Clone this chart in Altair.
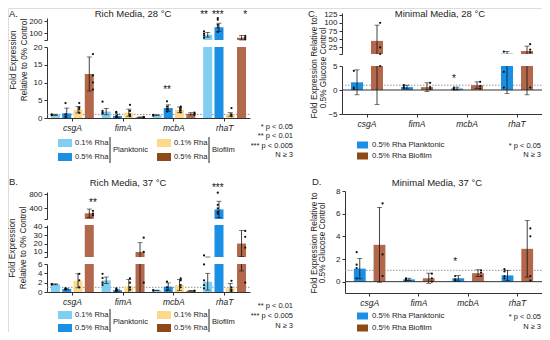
import altair as alt
import pandas as pd

FONT = "Liberation Sans"
W, H = 534, 324
INK = "#222222"
AX = "#333333"

genes = ["csgA", "fimA", "mcbA", "rhaT"]
series_rich = ["0.1% Rha Planktonic", "0.5% Rha Planktonic", "0.1% Rha Biofilm", "0.5% Rha Biofilm"]
series_min = ["0.5% Rha Planktonic", "0.5% Rha Biofilm"]
bar_colors_rich = ["#80cff3", "#1a8fe4", "#fbd88a", "#b3684b"]
bar_colors_min = ["#1a8fe4", "#b3684b"]
legend_colors = ["#80cff3", "#1a8fe4", "#fbd88a", "#8d4a17"]

# ---------------- Panel A: Rich media 28 C (series x gene) ----------------
a_mean = [[0.9, 1.8, 0.8, 85], [1.3, 0.6, 2.8, 150], [2.3, 1.5, 2.3, 1.0], [12.4, 0.2, 1.2, 60]]
a_sd = [[0.15, 0.9, 0.1, 20], [1.5, 0.5, 0.9, 35], [0.9, 1.0, 0.8, 0.5], [4.8, 0.1, 0.3, 20]]
a_pts = [
    [[0.8, 1.0, 0.9], [1.2, 1.5, 2.0, 4.6], [0.7, 0.8, 0.9], [60, 80, 95, 115]],
    [[0.3, 1.0, 4.2], [0.2, 0.5, 1.5, 1.7], [1.8, 2.5, 3.2, 4.7], [110, 150, 170, 215, 230]],
    [[1.5, 2.5, 3.0, 4.2], [0.5, 1.0, 2.0, 3.7], [1.6, 2.2, 2.8, 3.2], [0.5, 1.0, 2.8]],
    [[8, 10, 12, 18], [0.1, 0.2, 0.3], [0.9, 1.2, 1.5], [45, 60, 75]],
]
a_star_gene = ["rhaT", "rhaT", "rhaT", "mcbA"]
a_star_series = [series_rich[0], series_rich[1], series_rich[3], series_rich[1]]
a_star_text = ["**", "***", "*", "**"]
a_star_y = [252, 252, 252, 7.9]

# ---------------- Panel B: Rich media 37 C ----------------
b_mean = [[1.65, 2.5, 0.35, 2.2], [0.65, 0.4, 1.15, 370], [2.4, 1.2, 1.5, 0.8], [260, 10, 0.25, 20]]
b_sd = [[0.1, 0.7, 0.05, 1.8], [0.15, 0.2, 0.8, 230], [1.5, 1.5, 1.2, 1.0], [120, 11, 0.05, 15.5]]
b_pts = [
    [[1.6, 1.7, 1.7], [1.5, 2.0, 3.0, 3.9], [0.3, 0.4], [0.8, 1.5, 2.5, 5.9]],
    [[0.5, 0.7, 0.8], [0.2, 0.3, 0.5, 0.8], [0.4, 1.0, 2.2], [250, 300, 400, 500, 840]],
    [[1.0, 2.5, 3.9], [0.5, 1.0, 2.0, 2.9], [1.0, 1.5, 2.5, 2.9], [0.2, 0.5, 1.0, 2.4]],
    [[200, 250, 330], [2, 10, 27], [0.2, 0.3], [2, 15, 28, 35]],
]
b_star_gene = ["csgA", "rhaT"]
b_star_series = [series_rich[3], series_rich[1]]
b_star_text = ["**", "***"]
b_star_y = [550, 972]

# ---------------- Panel C: Minimal media 28 C ----------------
c_mean = [[1.6, 0.6, 0.3, 6], [45, 0.6, 1.0, 14]]
c_sd = [[2.6, 0.4, 0.3, 6.7], [48, 0.9, 0.7, 15]]
c_pts = [
    [[0.2, 0.5, 4.0], [0.4, 0.6, 1.0], [0.1, 0.3, 0.5], [0.5, 3.8, 12]],
    [[5, 25, 100], [0.2, 0.6, 1.5], [0.3, 0.8, 1.7], [0.5, 10, 18, 35]],
]
c_star_gene = ["mcbA"]
c_star_series = [series_min[0]]
c_star_text = ["*"]
c_star_y = [2.3]

# ---------------- Panel D: Minimal media 37 C ----------------
d_mean = [[1.15, 0.2, 0.3, 0.55], [3.25, 0.3, 0.75, 2.9]]
d_sd = [[0.9, 0.1, 0.25, 0.45], [3.3, 0.45, 0.3, 2.5]]
d_pts = [
    [[0.3, 1.2, 1.5, 2.6], [0.1, 0.2, 0.3], [0.1, 0.2, 0.5], [0.3, 0.5, 0.9, 1.1]],
    [[0.5, 2.4, 6.9], [0.0, 0.3, 0.7], [0.5, 0.8, 1.0], [0.1, 0.5, 4.0, 4.7]],
]
d_star_gene = ["mcbA"]
d_star_series = [series_min[0]]
d_star_text = ["*"]
d_star_y = [1.74]

titles = ["Rich Media, 28 \u00b0C", "Rich Media, 37 \u00b0C", "Minimal Media, 28 \u00b0C", "Minimal Media, 37 \u00b0C"]
letters = ["A.", "B.", "C.", "D."]
ytitle_rich = ["Fold Expression", "Relative to 0% Control"]
ytitle_min = ["Fold Expression Relative to", "0.5% Glucose Control"]
rate_labels = ["0.1% Rha", "0.5% Rha"]
group_labels = ["Planktonic", "Biofilm"]
notes_a = ["* p < 0.05", "** p < 0.01", "*** p < 0.005", "N \u2265 3"]
notes_b = ["** p < 0.01", "*** p < 0.005", "N \u2265 3"]
notes_min = ["* p < 0.05", "N \u2265 3"]

one = pd.DataFrame({"k": [0]})


def frames(means, sds, pts, series):
    rows, prow = [], []
    for si, s in enumerate(series):
        for gi, g in enumerate(genes):
            m, sd = means[si][gi], sds[si][gi]
            rows.append({"gene": g, "series": s, "mean": m, "lo": m - sd, "hi": m + sd})
            for v in pts[si][gi]:
                prow.append({"gene": g, "series": s, "v": v})
    return pd.DataFrame(rows), pd.DataFrame(prow)


def axis_style():
    return dict(domainColor=AX, tickColor=AX, labelColor=INK, labelFont=FONT,
                tickSize=3, domainWidth=1, tickWidth=1, grid=False, title=None)


def panel(means, sds, pts, series, colors, star_gene, star_series, star_text, star_y,
          xr, segs, pad_in, pad_out):
    df, pdf = frames(means, sds, pts, series)
    sdf = pd.DataFrame({"gene": star_gene, "series": star_series, "txt": star_text, "y": star_y})
    los = [s["dom"][0] for s in segs]
    seg_of = []
    for y in star_y:
        idx = 0
        for i, l in enumerate(los):
            if y >= l:
                idx = i
        seg_of.append(idx)
    sdf["seg"] = seg_of

    xs = alt.Scale(domain=genes, range=xr, paddingInner=0, paddingOuter=0)
    xos = alt.Scale(domain=series, paddingInner=pad_in, paddingOuter=pad_out)
    cs = alt.Scale(domain=series, range=colors)
    fx = alt.Scale(domain=[0, 1], range=xr)
    layers = []
    for i, seg in enumerate(segs):
        lo, hi = seg["dom"]
        ys = alt.Scale(domain=seg["dom"], range=seg["rng"], clamp=True, nice=False, zero=False)
        ys_free = alt.Scale(domain=seg["dom"], range=seg["rng"], nice=False, zero=False)
        Xn = alt.X("gene:N", scale=xs, axis=None)
        XO = alt.XOffset("series:N", scale=xos)
        if i == 0:
            xaxis = alt.Axis(orient="bottom", offset=seg["rng"][0] - H, labelFontStyle="italic",
                             labelFontSize=8.5, labelAngle=0, bandPosition=0.5, labelPadding=2,
                             **axis_style())
        else:
            xaxis = None
        tick_vals = list(seg["ticks"])
        label_expr = "datum.label"
        if i > 0:
            tick_vals = [lo] + tick_vals
            label_expr = f"datum.value == {lo} ? '' : datum.label"
        yaxis = alt.Axis(orient="left", offset=-xr[0], values=tick_vals, labelFontSize=8,
                         labelPadding=2, labelExpr=label_expr, **axis_style())
        # reference lines
        if lo <= 1 <= hi:
            layers.append(alt.Chart(one).mark_rule(color="#888888", strokeDash=[1.5, 1.5], strokeWidth=0.9).encode(
                x=alt.XDatum(0, type="quantitative", scale=fx, axis=None),
                x2=alt.X2Datum(1),
                y=alt.YDatum(1, type="quantitative", scale=ys_free, axis=None)))
        bars = alt.Chart(df).mark_bar().encode(
            x=alt.X("gene:N", scale=xs, axis=xaxis),
            xOffset=XO,
            y=alt.Y("mean:Q", scale=ys, axis=yaxis),
            y2=alt.datum(0),
            color=alt.Color("series:N", scale=cs, legend=None),
        )
        layers.append(bars)
        if lo < 0 <= hi:
            layers.append(alt.Chart(one).mark_rule(color=AX, strokeWidth=1).encode(
                x=alt.XDatum(0, type="quantitative", scale=fx, axis=None),
                x2=alt.X2Datum(1),
                y=alt.YDatum(0, type="quantitative", scale=ys_free, axis=None)))
        layers.append(alt.Chart(df).mark_rule(color="#111111", strokeWidth=0.8).encode(
            x=Xn, xOffset=XO, y=alt.Y("lo:Q", scale=ys, axis=None), y2="hi:Q"))
        for fld in ["hi", "lo"]:
            layers.append(alt.Chart(df).transform_filter(
                f"datum.{fld} >= {lo} && datum.{fld} <= {hi}").mark_tick(
                size=5, thickness=0.8, color="#111111").encode(
                x=Xn, xOffset=XO, y=alt.Y(f"{fld}:Q", scale=ys, axis=None)))
        layers.append(alt.Chart(pdf).transform_filter(
            f"datum.v >= {lo} && datum.v <= {hi}").mark_circle(size=5, color="#111111", opacity=1).encode(
            x=Xn, xOffset=XO, y=alt.Y("v:Q", scale=ys, axis=None)))
        sub = sdf[sdf["seg"] == i]
        if len(sub):
            layers.append(alt.Chart(sub).mark_text(fontSize=10, baseline="middle", font=FONT, color="#111111").encode(
                x=Xn, xOffset=XO, y=alt.Y("y:Q", scale=ys_free, axis=None), text="txt:N"))
    return layers


layers = []
layers += panel(a_mean, a_sd, a_pts, series_rich, bar_colors_rich,
                a_star_gene, a_star_series, a_star_text, a_star_y,
                [39, 242],
                [dict(dom=[0, 20], rng=[110, 39], ticks=[0, 5, 10, 15, 20]),
                 dict(dom=[40, 230], rng=[32, 10], ticks=[100, 200])],
                0.2, 0.35)
layers += panel(b_mean, b_sd, b_pts, series_rich, bar_colors_rich,
                b_star_gene, b_star_series, b_star_text, b_star_y,
                [39, 242],
                [dict(dom=[0, 6], rng=[284, 256], ticks=[0, 2, 4, 6]),
                 dict(dom=[4, 42], rng=[249, 217], ticks=[10, 20, 30, 40]),
                 dict(dom=[100, 860], rng=[211, 184], ticks=[400, 800])],
                0.2, 0.35)
layers += panel(c_mean, c_sd, c_pts, series_min, bar_colors_min,
                c_star_gene, c_star_series, c_star_text, c_star_y,
                [334, 534],
                [dict(dom=[-5, 5], rng=[106, 58], ticks=[-5, 0, 5]),
                 dict(dom=[5, 130], rng=[46, 5], ticks=[25, 50, 75, 100, 125])],
                0.4, 0.45)
layers += panel(d_mean, d_sd, d_pts, series_min, bar_colors_min,
                d_star_gene, d_star_series, d_star_text, d_star_y,
                [337, 534],
                [dict(dom=[-1, 8], rng=[285, 183], ticks=[0, 2, 4, 6, 8])],
                0.4, 0.45)


def text(s, x, y, size=8.0, align="left", angle=0, style="normal"):
    return alt.Chart(one).mark_text(text=s, align=align, baseline="middle", fontSize=size, font=FONT,
                                    angle=angle, fontStyle=style, color=INK).encode(
        x=alt.value(x), y=alt.value(y))


def rect(x1, x2, y1, y2, color):
    return alt.Chart(one).mark_rect(color=color).encode(
        x=alt.value(x1), x2=alt.value(x2), y=alt.value(y1), y2=alt.value(y2))


def vline(x, y1, y2):
    return alt.Chart(one).mark_rule(color=INK, strokeWidth=1).encode(
        x=alt.value(x), y=alt.value(y1), y2=alt.value(y2))


ann = []
# titles and letters
for (tx, ty), t in zip([(125, 6), (120, 175), (432, 6), (429, 175)], titles):
    ann.append(text(t, tx, ty, size=9.5, align="center"))
for (lx, ly), l in zip([(1, 6), (1, 174), (300, 6), (304, 174)], letters):
    ann.append(text(l, lx, ly, size=9.5))
# y titles
for (x1, x2, yc), lines in zip([(6, 17, 52), (5, 16, 240), (307, 316, 60), (307, 315, 235)],
                               [ytitle_rich, ytitle_rich, ytitle_min, ytitle_min]):
    ann.append(text(lines[0], x1, yc, size=8.3, align="center", angle=270))
    ann.append(text(lines[1], x2, yc, size=8.3, align="center", angle=270))

# rich legends
for (r1, r2) in [(135, 149), (307, 320)]:
    for gi, gx in enumerate([50, 149]):
        for ri, ry in enumerate([r1, r2]):
            ann.append(rect(gx, gx + 14, ry - 4, ry + 4, legend_colors[gi * 2 + ri]))
            ann.append(text(rate_labels[ri], gx + 17, ry, size=7.6))
        sep = gx + 52
        ann.append(vline(sep, r1 - 6, r2 + 6))
        ann.append(text(group_labels[gi], sep + 3, (r1 + r2) / 2, size=7.6))
for ni, n in enumerate(notes_a):
    ann.append(text(n, 285, 119 + ni * 9.3, size=7.5, align="right"))
for ni, n in enumerate(notes_b):
    ann.append(text(n, 285, 298 + ni * 10, size=7.5, align="right"))

# minimal legends
for (r1, r2) in [(137, 148), (308, 320)]:
    for si, ry in enumerate([r1, r2]):
        ann.append(rect(349, 360, ry - 3.5, ry + 3.5, legend_colors[1] if si == 0 else legend_colors[3]))
        ann.append(text(series_min[si], 364, ry, size=7.8))
for (n1, n2) in [(138, 147), (309, 319)]:
    ann.append(text(notes_min[0], 533, n1, size=7.5, align="right"))
    ann.append(text(notes_min[1], 533, n2, size=7.5, align="right"))

chart = alt.layer(*layers, *ann).resolve_scale(
    x="independent", y="independent", xOffset="independent", color="independent"
).properties(
    width=W, height=H, autosize=alt.AutoSizeParams(type="none"), padding=0
).configure_view(stroke=None).configure(font=FONT)

chart.save("out.html", embed_options={"renderer": "svg", "actions": False})
